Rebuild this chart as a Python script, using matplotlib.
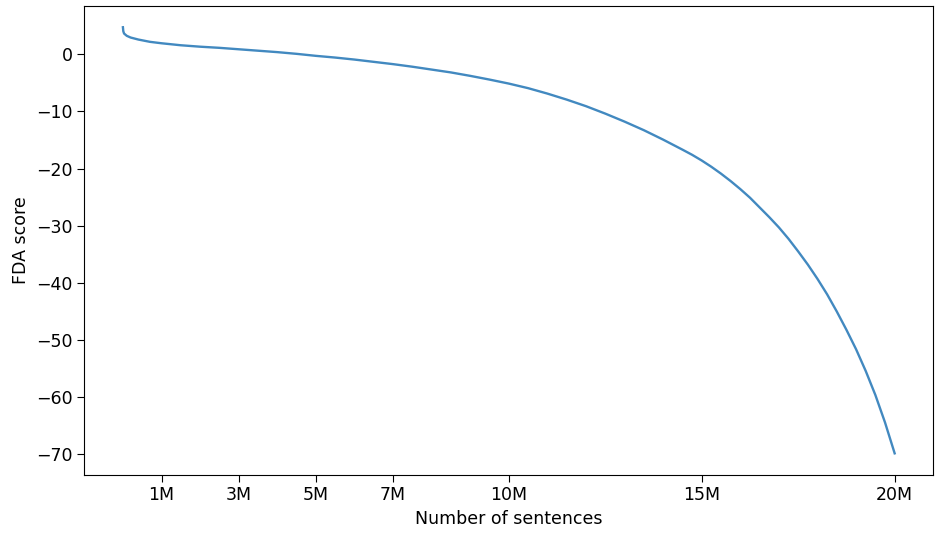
import numpy as np
import matplotlib
matplotlib.use("Agg")
import matplotlib.pyplot as plt

# number of sentences (millions) and FDA score
sentences_m = [0.0, 0.01, 0.03, 0.1, 0.2, 0.4, 0.7, 1.0, 1.5, 2.0, 2.5, 3.0,
               3.5, 4.0, 4.5, 5.0, 5.5, 6.0, 6.5, 7.0, 7.5, 8.0, 8.5, 9.0,
               9.5, 10.0, 10.5, 11.0, 11.5, 12.0, 12.5, 13.0, 13.5, 14.0,
               14.5, 14.75, 15.0, 15.25, 15.5, 15.75, 16.0, 16.25, 16.5,
               16.75, 17.0, 17.25, 17.5, 17.75, 18.0, 18.25, 18.5, 18.75,
               19.0, 19.25, 19.5, 19.75, 20.0]
fda_score = [4.7, 4.0, 3.6, 3.2, 2.9, 2.55, 2.15, 1.9, 1.55, 1.3, 1.1, 0.85,
             0.6, 0.35, 0.05, -0.3, -0.6, -0.95, -1.35, -1.75, -2.2, -2.7,
             -3.2, -3.8, -4.45, -5.15, -5.95, -6.9, -7.95, -9.1, -10.4, -11.8,
             -13.3, -14.95, -16.7, -17.6, -18.6, -19.7, -20.9, -22.2, -23.6,
             -25.1, -26.8, -28.5, -30.3, -32.3, -34.5, -36.8, -39.3, -42.0,
             -45.0, -48.2, -51.6, -55.4, -59.6, -64.4, -69.8]

tick_vals = [1e6, 3e6, 5e6, 7e6, 10e6, 15e6, 20e6]
tick_labels = ["1M", "3M", "5M", "7M", "10M", "15M", "20M"]

plt.rcParams["font.size"] = 12.5

fig, ax = plt.subplots(figsize=(9.37, 5.4), dpi=100)
x = np.array(sentences_m) * 1e6
ax.plot(x, fda_score, color="#4289c0", linewidth=1.7)
ax.set_xticks(tick_vals)
ax.set_xticklabels(tick_labels)
ax.set_xlabel("Number of sentences")
ax.set_ylabel("FDA score")
ax.tick_params(length=5)

fig.subplots_adjust(left=0.09, right=0.996, top=0.989, bottom=0.121)
fig.savefig("out.png")
